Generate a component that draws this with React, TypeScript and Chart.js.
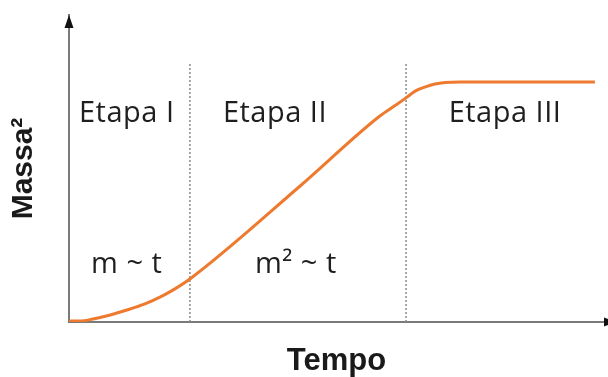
import React, { useEffect, useRef } from "react";
import { Chart, registerables } from "chart.js";

Chart.register(...registerables);

// Time (arbitrary units, axis 0–100) and squared mass (arbitrary units, axis 0–100)
const time = [0, 2, 4.5, 7.7, 10.8, 14.2, 17, 19.8, 22.6, 43.2, 58.1, 61.1, 63, 64.7, 66.5, 68.4, 70.3, 73.1, 84.3, 98.3];
const massa2 = [0.3, 0.3, 1, 2.3, 3.9, 5.9, 8.1, 10.8, 14, 44.3, 67.1, 70.7, 73, 75.2, 76.5, 77.5, 78, 78.2, 78.2, 78.2];

// Stage boundaries (time) and the height the dotted dividers reach
const stageLimits = [22.6, 63];
const dividerTop = 84.4;

// Stage names and growth laws, anchored in data units
const stageLabels = ["Etapa I", "Etapa II", "Etapa III"];
const stageLabelX = [10.8, 38.5, 81.5];
const stageLabelY = 65.1;
const lawLabels = ["m ~ t", "m² ~ t"];
const lawLabelX = [10.8, 42.4];
const lawLabelY = 15.8;

const xTitle = "Tempo";
const yTitle = "Massa²";

const labelsPlugin = {
  id: "stageLabels",
  afterDatasetsDraw(chart: any) {
    const { ctx, scales } = chart;
    const xs = scales.x;
    const ys = scales.y;
    ctx.save();
    ctx.fillStyle = "#1f1f1f";
    ctx.textAlign = "center";
    ctx.textBaseline = "alphabetic";
    ctx.font = "29px 'Open Sans'";
    try {
      (ctx as any).letterSpacing = "0.5px";
    } catch (e) {}
    stageLabels.forEach((t, i) => {
      ctx.fillText(t, xs.getPixelForValue(stageLabelX[i]), ys.getPixelForValue(stageLabelY));
    });
    lawLabels.forEach((t, i) => {
      ctx.fillText(t, xs.getPixelForValue(lawLabelX[i]), ys.getPixelForValue(lawLabelY));
    });
    ctx.restore();
  },
};

const arrowsPlugin = {
  id: "axisArrows",
  afterDraw(chart: any) {
    const { ctx, chartArea } = chart;
    const { left, top, right, bottom } = chartArea;
    ctx.save();
    ctx.fillStyle = "#111111";
    ctx.beginPath();
    ctx.moveTo(left, top);
    ctx.lineTo(left - 4.5, top + 13);
    ctx.lineTo(left + 4.5, top + 13);
    ctx.closePath();
    ctx.fill();
    ctx.beginPath();
    ctx.moveTo(right + 13, bottom);
    ctx.lineTo(right, bottom - 4.5);
    ctx.lineTo(right, bottom + 4.5);
    ctx.closePath();
    ctx.fill();
    ctx.restore();
  },
};

export default function App() {
  const ref = useRef<HTMLCanvasElement | null>(null);

  useEffect(() => {
    if (!ref.current) return;
    const curve = time.map((t, i) => ({ x: t, y: massa2[i] }));
    const dividers = stageLimits.map((lim) => ({
      data: [
        { x: lim, y: 0 },
        { x: lim, y: dividerTop },
      ],
      borderColor: "#8a8a8a",
      borderWidth: 1.5,
      borderDash: [2, 2],
      pointRadius: 0,
      fill: false,
    }));
    const chart = new Chart(ref.current, {
      type: "line",
      data: {
        datasets: [
          {
            data: curve,
            borderColor: "#EE7A30",
            borderWidth: 3,
            pointRadius: 0,
            cubicInterpolationMode: "monotone",
            fill: false,
          },
          ...dividers,
        ] as any,
      },
      options: {
        responsive: false,
        animation: false,
        events: [],
        layout: { padding: { top: 15, right: 4, left: 0, bottom: 0 } },
        plugins: { legend: { display: false }, tooltip: { enabled: false } },
        scales: {
          x: {
            type: "linear",
            min: 0,
            max: 100,
            ticks: { display: false },
            grid: { display: false },
            border: { display: true, color: "#7a7a7a", width: 2 },
            title: {
              display: true,
              text: xTitle,
              color: "#1a1a1a",
              font: { family: "Liberation Sans, Arial, sans-serif", size: 31, weight: "bold", lineHeight: 1 },
              padding: { top: 0, bottom: 0 },
            },
            afterFit: (s: any) => {
              s.height = 55;
            },
          },
          y: {
            type: "linear",
            min: 0,
            max: 100,
            ticks: { display: false },
            grid: { display: false },
            border: { display: true, color: "#7a7a7a", width: 2 },
            title: {
              display: true,
              text: yTitle,
              color: "#1a1a1a",
              font: { family: "Liberation Sans, Arial, sans-serif", size: 30, weight: "bold", lineHeight: 1 },
              padding: { top: 9, bottom: 0 },
            },
            afterFit: (s: any) => {
              s.width = 69;
            },
          },
        },
      } as any,
      plugins: [labelsPlugin, arrowsPlugin],
    });
    return () => chart.destroy();
  }, []);

  return (
    <div style={{ position: "fixed", left: 0, top: 0, width: 608, height: 377, background: "#ffffff" }}>
      <canvas ref={ref} width={608} height={377} style={{ display: "block" }} />
    </div>
  );
}
